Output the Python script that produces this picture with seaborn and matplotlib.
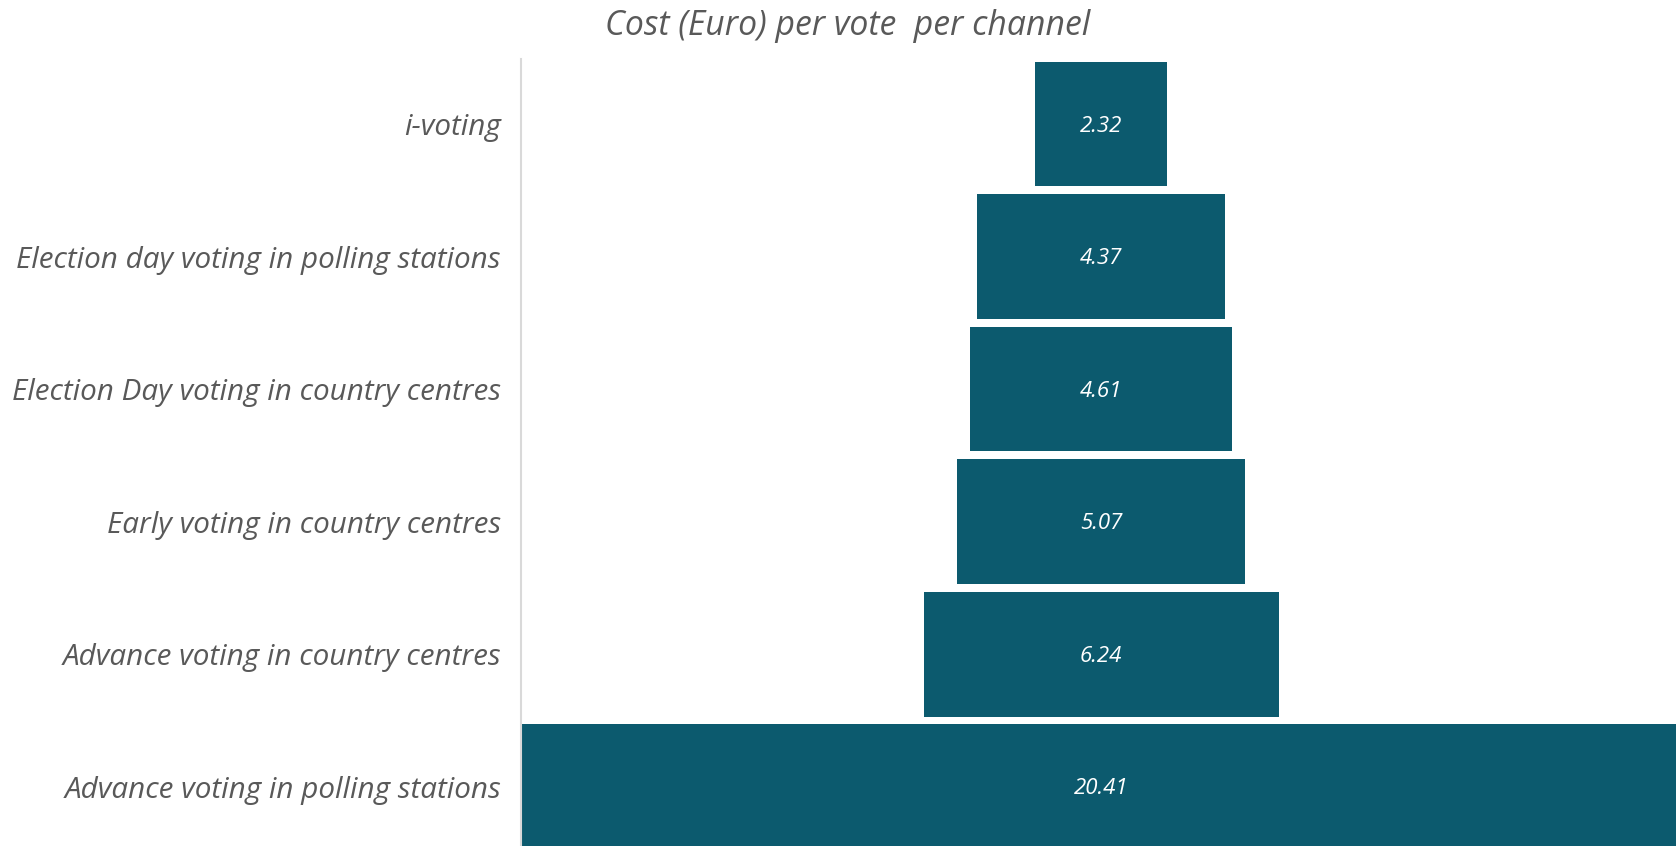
import matplotlib
matplotlib.use("Agg")
import matplotlib.pyplot as plt
import seaborn as sns
import pandas as pd

# Data
channels = [
    "i-voting",
    "Election day voting in polling stations",
    "Election Day voting in country centres",
    "Early voting in country centres",
    "Advance voting in country centres",
    "Advance voting in polling stations",
]
costs = [2.32, 4.37, 4.61, 5.07, 6.24, 20.41]
title = "Cost (Euro) per vote  per channel"

BAR_COLOR = "#0C5A6E"
TEXT_COLOR = "#595959"

sns.set_theme(style="white")
plt.rcParams["font.family"] = ["Open Sans", "DejaVu Sans"]

df = pd.DataFrame({"channel": channels, "cost": costs})

fig = plt.figure(figsize=(16.76, 8.46), dpi=100)
ax = fig.add_axes([0.3109, 0.0, 0.6891, 0.9305])

sns.barplot(data=df, x="cost", y="channel", orient="h", color=BAR_COLOR,
            saturation=1, width=0.94, ax=ax)

# centre every bar on the widest one to get the funnel shape
top = max(costs)
for patch in ax.patches:
    w = patch.get_width()
    patch.set_x((top - w) / 2)
    patch.set_edgecolor("none")
    ax.text(top / 2, patch.get_y() + patch.get_height() / 2 + 0.016, f"{w:.2f}",
            ha="center", va="center", color="white", fontsize=16,
            fontstyle="italic")

# the widest bar runs a little past the right edge in the reference
ax.set_xlim(0, top * 0.9954)
ax.set_ylim(5.447, -0.492)
ax.set_xlabel("")
ax.set_ylabel("")
ax.set_xticks([])
ax.tick_params(axis="y", length=0, pad=14.5)
for lbl in ax.get_yticklabels():
    lbl.set_fontsize(21.3)
    lbl.set_fontstyle("italic")
    lbl.set_color(TEXT_COLOR)

for side in ["top", "right", "bottom"]:
    ax.spines[side].set_visible(False)
ax.spines["left"].set_color("#D9D9D9")
ax.spines["left"].set_linewidth(1.5)

fig.text(0.506, 0.969, title, ha="center", va="center", fontsize=24.3,
         fontstyle="italic", color=TEXT_COLOR)

fig.savefig("out.png", dpi=100)
